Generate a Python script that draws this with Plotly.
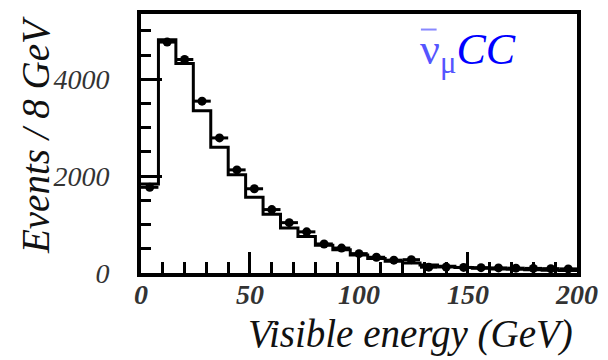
import plotly.graph_objects as go

# ---- data ----
bin_edges = [0, 8, 16, 24, 32, 40, 48, 56, 64, 72, 80, 88, 96, 104, 112, 120,
             128, 136, 144, 152, 160, 168, 176, 184, 192, 200]
bin_centers = [4, 12, 20, 28, 36, 44, 52, 60, 68, 76, 84, 92, 100, 108, 116, 124,
               132, 140, 148, 156, 164, 172, 180, 188, 196]
data_counts = [1770, 4770, 4410, 3550, 2790, 2130, 1740, 1310, 1040, 850, 600, 515,
               400, 325, 265, 275, 120, 125, 115, 110, 105, 100, 95, 90, 85]
mc_counts = [1840, 4820, 4330, 3350, 2600, 2030, 1565, 1215, 930, 755, 575, 480,
             370, 300, 245, 205, 165, 140, 115, 100, 85, 75, 65, 55, 50]
half_width = [4] * len(bin_centers)
x_ticks = [0, 50, 100, 150, 200]
y_ticks = [0, 2000, 4000]

serif = "Liberation Serif"

fig = go.Figure()
fig.add_trace(go.Scatter(
    x=bin_edges, y=mc_counts + [mc_counts[-1]], mode="lines", line_shape="hv",
    line=dict(color="black", width=3), hoverinfo="skip", showlegend=False))
fig.add_trace(go.Scatter(
    x=bin_centers, y=data_counts, mode="markers",
    marker=dict(color="black", size=9),
    error_x=dict(type="data", array=half_width, color="black", thickness=3, width=0),
    showlegend=False))

fig.update_layout(
    width=608, height=360,
    margin=dict(l=141, r=18, t=10, b=87),
    paper_bgcolor="white", plot_bgcolor="white",
    xaxis=dict(range=[0, 200.01], tickvals=x_ticks, ticks="inside", ticklen=21, tickwidth=3,
               tickcolor="black", showline=True, linecolor="black", linewidth=4, mirror=True,
               showgrid=False, zeroline=False, ticklabelstandoff=-7, ticklabeloverflow="allow",
               tickfont=dict(family=serif, size=28, color="#333", style="italic", weight="bold"),
               minor=dict(dtick=10, ticks="inside", ticklen=11, tickwidth=3, tickcolor="black",
                          showgrid=False)),
    yaxis=dict(range=[0, 5350], tickvals=y_ticks, ticks="inside", ticklen=21, tickwidth=3,
               tickcolor="black", showline=True, linecolor="black", linewidth=4, mirror=True,
               showgrid=False, zeroline=False, ticklabelstandoff=22,
               tickfont=dict(family=serif, size=28, color="#333", style="italic"),
               minor=dict(dtick=500, ticks="inside", ticklen=10, tickwidth=3, tickcolor="black",
                          showgrid=False)),
    annotations=[
        dict(text="<i>Visible energy (GeV)</i>", xref="paper", yref="paper",
             x=0.9955, y=-0.235, xanchor="right", yanchor="middle", showarrow=False,
             font=dict(family=serif, size=39, color="#111")),
        dict(text="<i>Events / 8 GeV</i>", xref="paper", yref="paper", textangle=-90,
             x=-0.243, y=1.0, xanchor="center", yanchor="top", showarrow=False,
             font=dict(family=serif, size=39, color="#111")),
        dict(text="<span style='color:#5555ff'>ν<sub>μ</sub></span><i>CC</i>",
             xref="paper", yref="paper",
             x=0.635, y=0.85, xanchor="left", yanchor="middle", showarrow=False,
             font=dict(family=serif, size=44, color="#0000ff")),
    ],
    shapes=[
        dict(type="line", xref="paper", yref="paper", x0=0.642, x1=0.678, y0=0.94, y1=0.94,
             line=dict(color="#8888ff", width=2)),
    ],
)

fig.write_html("out.html")
